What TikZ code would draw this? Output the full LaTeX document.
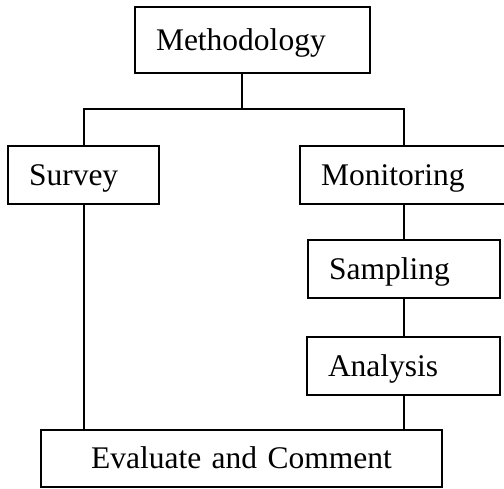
\documentclass[tikz,border=0pt]{standalone}
\usepackage{fontspec}
\setmainfont{Liberation Serif}
\begin{document}
\begin{tikzpicture}[x=1pt,y=-1pt,
  box/.style={draw, line width=2pt, rectangle, anchor=north west, outer sep=0pt,
    inner ysep=0pt, inner xsep=21pt, align=left,
    text height=26pt, text depth=6pt,
    font=\fontsize{31.5}{36}\selectfont},
  link/.style={line width=2pt}]
\useasboundingbox (0,0) rectangle (504,488);
\node[box, text width=193pt, minimum height=66pt] (meth) at (135,7) {Methodology};
\node[box, text width=109pt, minimum height=58pt] (surv) at (8,146) {Survey};
\node[box, text width=173pt, minimum height=58pt] (moni) at (300,146) {Monitoring};
\node[box, text width=150pt, minimum height=58pt] (samp) at (308,240) {Sampling};
\node[box, text width=151pt, minimum height=58pt] (anal) at (307,337) {Analysis};
\node[box, text width=359pt, minimum height=57pt, align=center] (eval) at (41,430) {Evaluate and Comment};
\coordinate (j) at (242,109);
\coordinate (mtop) at (404,146);
\draw[link] (meth.south -| j) -- (j);
\draw[link] (surv.north) |- (j) -| (mtop);
\draw[link] (mtop |- moni.south) -- (samp.north);
\draw[link] (samp.south) -- (samp.south |- anal.north);
\draw[link] (anal.south) -- (anal.south |- eval.north);
\draw[link] (surv.south) -- (surv.south |- eval.north);
\end{tikzpicture}
\end{document}
